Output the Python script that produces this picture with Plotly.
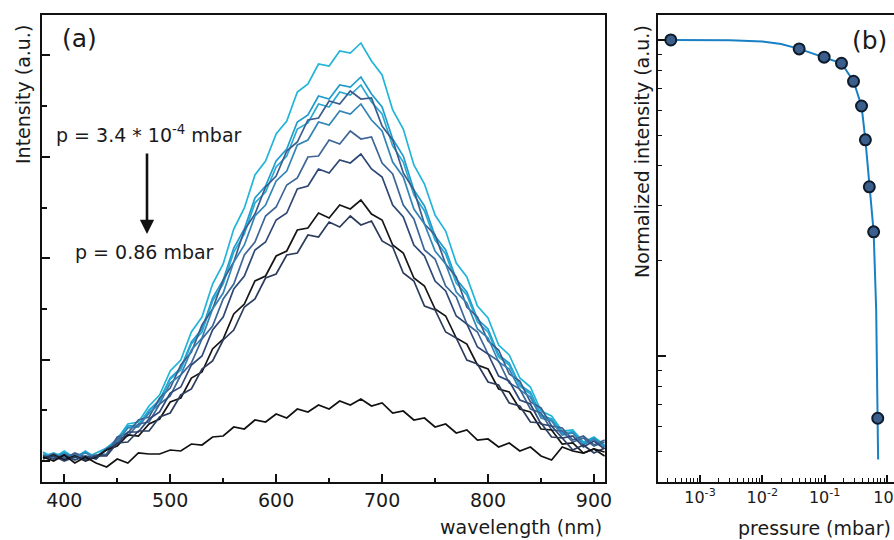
import plotly.graph_objects as go

# ---------------- Panel (a): spectra ----------------
wavelength = list(range(380, 911, 10))  # nm, 54 points

spec_1 = [9, 3, 10, 3, 10, 2, 13, 22, 37, 39, 55, 66, 90, 101, 129, 144, 177, 197, 232, 253,
          286, 300, 327, 340, 369, 377, 397, 395, 410, 408, 418, 400, 386, 351, 332, 296, 277, 246, 230, 198,
          184, 155, 143, 116, 106, 83, 74, 50, 45, 30, 31, 19, 24, 16]
spec_2 = [7, 5, 8, 4, 9, 4, 13, 20, 35, 36, 51, 61, 83, 93, 119, 132, 163, 181, 213, 232,
          263, 275, 300, 312, 339, 346, 365, 362, 376, 374, 384, 367, 354, 322, 305, 271, 255, 225, 211, 182,
          169, 142, 132, 106, 98, 76, 69, 46, 42, 28, 29, 18, 23, 15]
spec_3 = [5, 8, 4, 7, 3, 8, 13, 20, 34, 35, 50, 60, 82, 91, 117, 129, 160, 177, 209, 227,
          258, 269, 294, 305, 332, 338, 357, 354, 369, 366, 376, 359, 347, 315, 299, 266, 250, 221, 207, 178,
          166, 139, 129, 104, 96, 75, 67, 45, 41, 27, 29, 17, 22, 15]
spec_4 = [3, 7, 2, 8, 4, 6, 7, 24, 28, 41, 44, 63, 73, 96, 109, 136, 152, 181, 199, 231,
          247, 274, 285, 310, 319, 341, 343, 360, 357, 370, 362, 363, 335, 321, 288, 271, 237, 226, 197, 184,
          154, 144, 120, 111, 87, 80, 59, 53, 35, 33, 21, 25, 16, 21]
spec_5 = [6, 3, 7, 4, 8, 3, 12, 19, 33, 34, 48, 57, 78, 86, 111, 123, 152, 168, 199, 216,
          245, 256, 280, 290, 316, 321, 339, 336, 350, 347, 357, 341, 330, 299, 284, 252, 237, 210, 197, 169,
          158, 132, 123, 99, 92, 71, 64, 43, 40, 26, 28, 16, 22, 14]
spec_6 = [4, 6, 3, 6, 2, 5, 6, 22, 25, 37, 39, 57, 65, 86, 98, 122, 135, 162, 177, 206,
          219, 245, 254, 276, 283, 304, 305, 321, 317, 330, 322, 324, 298, 287, 256, 242, 211, 202, 175, 164,
          137, 129, 107, 100, 78, 72, 52, 48, 31, 30, 19, 23, 15, 19]
spec_7 = [5, 2, 6, 1, 5, 2, 12, 17, 29, 29, 42, 49, 68, 74, 96, 105, 131, 144, 172, 185,
          211, 219, 241, 248, 272, 275, 292, 288, 301, 298, 307, 292, 284, 256, 244, 216, 205, 180, 170, 145,
          137, 114, 107, 85, 80, 61, 57, 37, 35, 23, 25, 14, 20, 12]
spec_8 = [2, 6, 1, 5, 0, 4, 11, 15, 26, 25, 37, 42, 59, 63, 83, 89, 112, 122, 147, 157,
          180, 185, 205, 210, 231, 233, 248, 243, 256, 252, 261, 247, 241, 216, 208, 183, 175, 152, 145, 123,
          117, 96, 92, 72, 69, 52, 49, 32, 31, 17, 18, 8, 12, 5]
spec_9 = [3, 5, 0, 4, 1, 5, 5, 18, 19, 30, 30, 44, 48, 66, 72, 92, 100, 121, 131, 154,
          162, 183, 187, 206, 208, 226, 224, 239, 234, 245, 236, 240, 220, 214, 188, 180, 155, 151, 129, 123,
          101, 97, 79, 76, 58, 55, 39, 38, 24, 23, 11, 16, 8, 13]
spec_10 = [4, 0, 6, -2, 4, -2, -6, 2, -2, 8, 7, 7, 11, 10, 17, 16, 24, 25, 34, 32,
           41, 39, 47, 43, 52, 49, 56, 52, 60, 56, 62, 55, 58, 48, 50, 41, 43, 34, 37, 28,
           31, 21, 22, 14, 18, 10, 14, 5, 1, 14, 10, 8, 12, 9]

spectra = [spec_1, spec_2, spec_3, spec_4, spec_5, spec_6, spec_7, spec_8, spec_9, spec_10]
spec_colors = ["#22b5d8", "#1f9ccb", "#2aa9d2", "#3c5c8c", "#3284b5",
               "#3d6596", "#2f4775", "#151515", "#2c3c5c", "#111111"]

# ---------------- Panel (b): normalized intensity vs pressure ----------------
pressure = [3.4e-4, 0.039, 0.098, 0.186, 0.29, 0.39, 0.45, 0.52, 0.61, 0.71]
norm_int = [1.0, 0.937, 0.882, 0.844, 0.740, 0.618, 0.483, 0.343, 0.247, 0.0635]

fit_p = [3.4e-4, 0.001, 0.003, 0.01, 0.02, 0.039, 0.098, 0.186, 0.29, 0.39, 0.45, 0.52, 0.61, 0.67, 0.71, 0.72]
fit_i = [1.0, 0.999, 0.997, 0.988, 0.971, 0.937, 0.882, 0.844, 0.740, 0.618, 0.483, 0.343, 0.247, 0.14, 0.0635, 0.047]

FONT = "DejaVu Sans"
TXT = "#1a1a1a"
W, H = 894, 540

fig = go.Figure()
for vals, col in zip(spectra, spec_colors):
    fig.add_trace(go.Scatter(x=wavelength, y=vals, mode="lines",
                             line=dict(color=col, width=1.7), xaxis="x", yaxis="y",
                             showlegend=False, hoverinfo="skip"))

fig.add_trace(go.Scatter(x=fit_p, y=fit_i, mode="lines", line=dict(color="#1a80c4", width=2),
                         xaxis="x2", yaxis="y2", showlegend=False, hoverinfo="skip"))
fig.add_trace(go.Scatter(x=pressure, y=norm_int, mode="markers",
                         marker=dict(size=11, color="#3b5f8c", line=dict(color="#0e1b2b", width=2)),
                         xaxis="x2", yaxis="y2", showlegend=False, hoverinfo="skip"))


def px(x):
    return x / W


def py(y):
    return (H - y) / H


ydom = [py(482), py(15)]
axline = dict(showline=True, linecolor="#111111", linewidth=2, mirror=True, showgrid=False,
              zeroline=False, ticks="inside", tickcolor="#111111", tickwidth=1.5)

fig.update_layout(
    width=W, height=H, margin=dict(l=0, r=0, t=0, b=0, autoexpand=False),
    paper_bgcolor="white", plot_bgcolor="white",
    font=dict(family=FONT, size=19, color=TXT),
    xaxis=dict(domain=[px(42), px(605)], range=[379, 910.4], tickvals=[400, 500, 600, 700, 800, 900],
               ticklen=8, tickfont=dict(size=19), anchor="y", ticklabeloverflow="allow",
               minor=dict(tickvals=[450, 550, 650, 750, 850], ticks="inside", ticklen=4,
                          tickcolor="#111111", tickwidth=1.5),
               **axline),
    yaxis=dict(domain=ydom, range=[-21, 446], tickvals=[0, 101.4, 202.8, 304.2, 405.6],
               ticklen=8, showticklabels=False, anchor="x",
               minor=dict(tickvals=[50.7, 152.1, 253.5, 354.9], ticks="inside", ticklen=5,
                          tickcolor="#111111", tickwidth=1.5),
               **axline),
    xaxis2=dict(domain=[px(658), 1.0], type="log", range=[-3.674, 0.112],
                tickvals=[1e-3, 1e-2, 1e-1, 1], ticktext=["10<sup>-3</sup>", "10<sup>-2</sup>",
                                                          "10<sup>-1</sup>", "10<sup>0</sup>"],
                ticklen=7, tickfont=dict(size=16), anchor="y2", ticklabeloverflow="allow",
                minor=dict(tickvals=[m * 10 ** e for e in (-4, -3, -2, -1, 0) for m in range(2, 10)],
                           ticks="inside", ticklen=4, tickcolor="#111111", tickwidth=1.2),
                **axline),
    yaxis2=dict(domain=ydom, type="log", range=[-1.399, 0.079], tickvals=[0.1, 1],
                ticklen=8, showticklabels=False, anchor="x2",
                minor=dict(tickvals=[0.05, 0.06, 0.07, 0.08, 0.09, 0.2, 0.3, 0.4, 0.5, 0.6, 0.7, 0.8, 0.9],
                           ticks="inside", ticklen=4, tickcolor="#111111", tickwidth=1.2),
                **{**axline, "mirror": False}),
)

annos = [
    dict(text="(a)", x=px(60), y=py(38), xanchor="left", yanchor="middle", font=dict(size=25)),
    dict(text="(b)", x=px(850), y=py(40), xanchor="left", yanchor="middle", font=dict(size=25)),
    dict(text="Intensity (a.u.)", x=px(23), y=py(95), textangle=-90, xanchor="center", yanchor="middle"),
    dict(text="Normalized intensity (a.u.)", x=px(642), y=py(152), textangle=-90,
         xanchor="center", yanchor="middle"),
    dict(text="wavelength (nm)", x=px(604), y=py(527), xanchor="right", yanchor="middle"),
    dict(text="pressure (mbar)", x=px(893), y=py(528), xanchor="right", yanchor="middle"),
    dict(text="p = 3.4 * 10<sup>-4</sup> mbar", x=px(54), y=py(134), xanchor="left", yanchor="middle"),
    dict(text="p = 0.86 mbar", x=px(73), y=py(252), xanchor="left", yanchor="middle"),
]
for a in annos:
    a.update(xref="paper", yref="paper", showarrow=False)
    fig.add_annotation(**a)

fig.add_annotation(x=px(147), y=py(234), xref="paper", yref="paper", ax=0, ay=-82,
                   showarrow=True, arrowhead=2, arrowsize=1.1, arrowwidth=2.6, arrowcolor="#111111", text="")

fig.write_html("out.html", config={"displayModeBar": False},
               post_script="document.body.style.margin='0px';document.body.style.overflow='hidden';")
